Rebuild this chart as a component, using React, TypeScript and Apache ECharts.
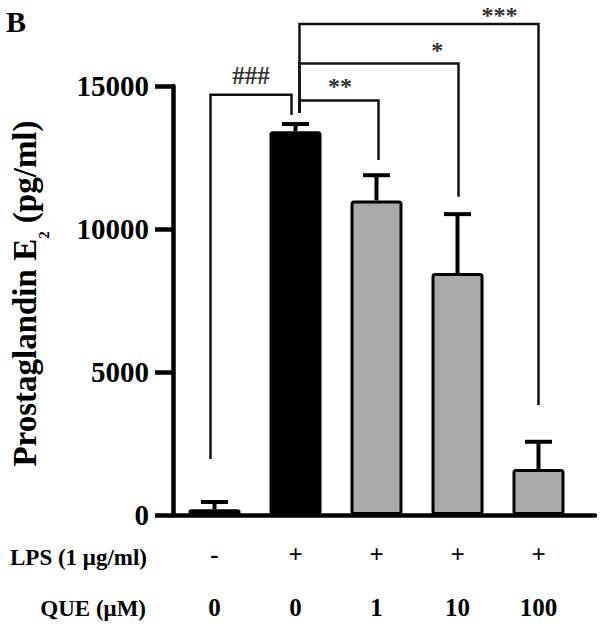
import React, { useEffect, useRef } from "react";
import * as echarts from "echarts";

// ---- data ----
const lpsLabels = ["-", "+", "+", "+", "+"];
const queLabels = ["0", "0", "1", "10", "100"];
const means = [200, 13420, 11000, 8460, 1610];
const sems = [255, 250, 880, 2060, 950];
const yTicks = [0, 5000, 10000, 15000];

// significance brackets (category index / data units)
const brLabels = ["###", "**", "*", "***"];
const brFrom = [0, 1, 1, 1];
const brTo = [1, 2, 3, 4];
const brFromBottom = [1960, 14060, 14060, 14060];
const brToBottom = [13990, 12410, 11130, 3850];
const brTop = [14690, 14490, 15790, 17170];
const brLabelPos = [0.45, 1.55, 2.75, 3.52];

// ---- styles ----
const SERIF = '"Liberation Serif", "Times New Roman", serif';
const barColors = ["#ffffff", "#000000", "#aaaaaa", "#aaaaaa", "#aaaaaa"];
const legOffsets = [[-4, -4], [4, 2], [4, 1], [4, 0]];
const labelGaps = [19, 15, 13, 9];

export default function App() {
  const ref = useRef<HTMLDivElement>(null);
  useEffect(() => {
    document.body.style.margin = "0";
    const chart = echarts.init(ref.current!, null, { renderer: "svg" });
    const option: any = {
      animation: false,
      backgroundColor: "#ffffff",
      grid: [
        { left: 174, right: 23, top: 86, bottom: 111 },
        { left: 161, right: 7, top: 86, bottom: 111 },
      ],
      xAxis: [
        {
          type: "category",
          gridIndex: 0,
          data: lpsLabels,
          axisLine: { show: false },
          axisTick: { show: false },
          axisLabel: {
            margin: 27,
            fontFamily: SERIF,
            fontWeight: "bold",
            fontSize: 25,
            lineHeight: 25,
            color: "#000",
          },
        },
        {
          type: "category",
          gridIndex: 0,
          position: "bottom",
          data: queLabels,
          axisLine: { show: false },
          axisTick: { show: false },
          axisLabel: {
            margin: 80,
            fontFamily: SERIF,
            fontWeight: "bold",
            fontSize: 25,
            lineHeight: 25,
            color: "#000",
          },
        },
        {
          type: "value",
          gridIndex: 1,
          min: 0,
          max: 1,
          axisLine: { show: true, lineStyle: { color: "#000", width: 4.5 } },
          axisTick: { show: false },
          axisLabel: { show: false },
          splitLine: { show: false },
        },
      ],
      yAxis: [
        { type: "value", gridIndex: 0, min: 0, max: 15000, show: false },
        {
          type: "value",
          gridIndex: 1,
          min: yTicks[0],
          max: yTicks[yTicks.length - 1],
          interval: yTicks[1] - yTicks[0],
          axisLine: { show: true, lineStyle: { color: "#000", width: 4.5 } },
          axisTick: { show: true, length: 18, lineStyle: { color: "#000", width: 4.5 } },
          axisLabel: {
            margin: 24,
            fontFamily: SERIF,
            fontWeight: "bold",
            fontSize: 29,
            color: "#000",
            formatter: (v: number) => String(v),
          },
          splitLine: { show: false },
          name: "{a|Prostaglandin E}{s|2}{a| (pg/ml)}",
          nameLocation: "middle",
          nameRotate: 90,
          nameGap: 122,
          nameTextStyle: {
            padding: [0, 0, 0, 14],
            rich: {
              a: {
                fontFamily: SERIF,
                fontWeight: "bold",
                fontSize: 33,
                lineHeight: 33,
                verticalAlign: "top",
                color: "#000",
              },
              s: {
                fontFamily: SERIF,
                fontWeight: "bold",
                fontSize: 15,
                lineHeight: 43,
                verticalAlign: "bottom",
                color: "#000",
              },
            },
          },
        },
      ],
      graphic: [
        {
          type: "text",
          left: 6,
          top: 6,
          style: { text: "B", fontFamily: SERIF, fontWeight: "bold", fontSize: 30, fill: "#000" },
        },
        {
          type: "text",
          x: 147,
          y: 557,
          style: {
            text: "LPS (1 μg/ml)",
            fontFamily: SERIF,
            fontWeight: "bold",
            fontSize: 23,
            fill: "#000",
            align: "right",
            verticalAlign: "middle",
          },
        },
        {
          type: "text",
          x: 146,
          y: 608,
          style: {
            text: "QUE (μM)",
            fontFamily: SERIF,
            fontWeight: "bold",
            fontSize: 23,
            fill: "#000",
            align: "right",
            verticalAlign: "middle",
          },
        },
      ],
      series: [
        {
          type: "bar",
          xAxisIndex: 0,
          yAxisIndex: 0,
          barWidth: 52,
          data: means.map((m, i) => ({
            value: m,
            itemStyle: {
              color: barColors[i],
              borderColor: "#000",
              borderWidth: 3,
              borderRadius: 2,
            },
          })),
        },
        {
          type: "custom",
          xAxisIndex: 0,
          yAxisIndex: 0,
          clip: false,
          z: 3,
          encode: { x: 0, y: [1, 2] },
          data: means.map((m, i) => [i, m, m + sems[i]]),
          renderItem: (params: any, api: any) => {
            const i = api.value(0);
            const base = api.coord([i, api.value(1)]);
            const top = api.coord([i, api.value(2)]);
            return {
              type: "group",
              children: [
                {
                  type: "line",
                  shape: { x1: base[0], y1: base[1], x2: top[0], y2: top[1] },
                  style: { stroke: "#000", lineWidth: 4 },
                },
                {
                  type: "line",
                  shape: { x1: top[0] - 13.5, y1: top[1], x2: top[0] + 13.5, y2: top[1] },
                  style: { stroke: "#000", lineWidth: 4 },
                },
              ],
            };
          },
        },
        {
          type: "custom",
          xAxisIndex: 0,
          yAxisIndex: 0,
          clip: false,
          z: 4,
          encode: { x: 0, y: 1 },
          data: brLabels.map((_, i) => [brTo[i], brToBottom[i]]),
          renderItem: (params: any, api: any) => {
            const k = params.dataIndex;
            const fb = api.coord([brFrom[k], brFromBottom[k]]);
            const ft = api.coord([brFrom[k], brTop[k]]);
            const tt = api.coord([brTo[k], brTop[k]]);
            const tb = api.coord([brTo[k], brToBottom[k]]);
            const x1 = ft[0] + legOffsets[k][0];
            const x2 = tt[0] + legOffsets[k][1];
            const c0 = api.coord([0, brTop[k]])[0];
            const step = api.coord([1, brTop[k]])[0] - c0;
            const lx = c0 + step * brLabelPos[k];
            const isHash = brLabels[k].indexOf("#") >= 0;
            return {
              type: "group",
              children: [
                {
                  type: "polyline",
                  shape: {
                    points: [
                      [x1, fb[1]],
                      [x1, ft[1]],
                      [x2, tt[1]],
                      [x2, tb[1]],
                    ],
                  },
                  style: { stroke: "#111", lineWidth: 2.5, fill: null, lineJoin: "miter" },
                },
                {
                  type: "text",
                  style: {
                    text: brLabels[k],
                    x: lx,
                    y: ft[1] - labelGaps[k],
                    align: "center",
                    verticalAlign: "middle",
                    fontFamily: SERIF,
                    fontWeight: "bold",
                    fontSize: isHash ? 25 : 24,
                    fill: "#333",
                  },
                },
              ],
            };
          },
        },
      ],
    };
    chart.setOption(option);
    return () => chart.dispose();
  }, []);
  return <div ref={ref} style={{ width: 602, height: 626 }} />;
}
